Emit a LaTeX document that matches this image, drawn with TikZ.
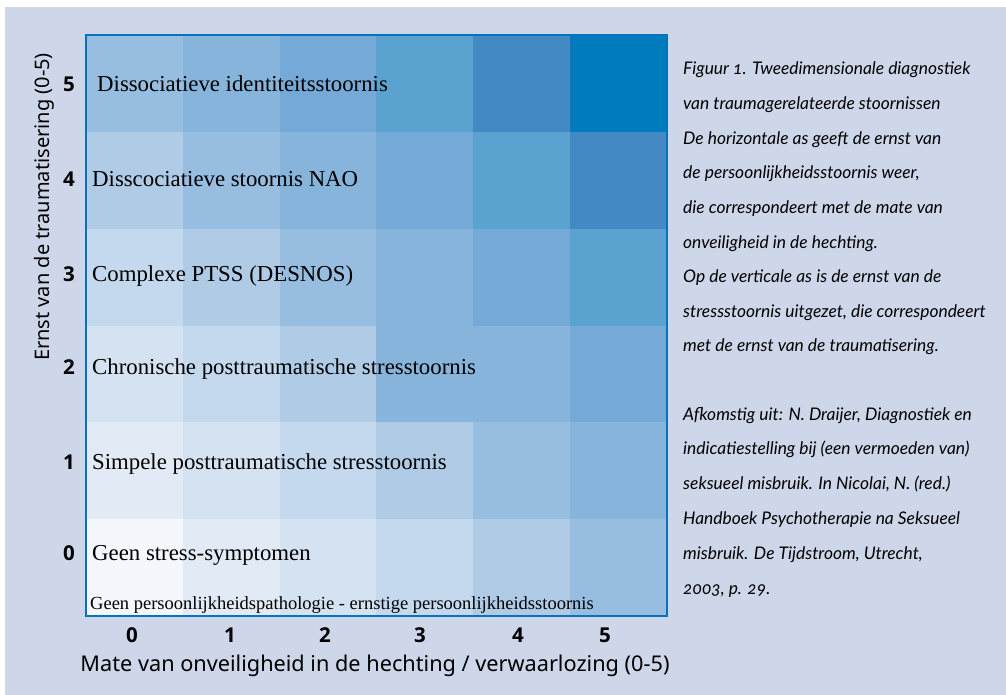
\documentclass[tikz,border=0pt]{standalone}
\usepackage{fontspec}
\setmainfont{Liberation Serif}
\newfontfamily\axisfont{Noto Sans}
\newfontfamily\tickfont{Open Sans}
\newfontfamily\capfont[Numbers=OldStyle]{Lato}
\usetikzlibrary{positioning}

\definecolor{panelbg}{HTML}{CED7E9}
\definecolor{frameblue}{HTML}{0A72B8}
\definecolor{lv0}{HTML}{F4F7FB}
\definecolor{lv1}{HTML}{E2EAF6}
\definecolor{lv2}{HTML}{D4E2F2}
\definecolor{lv3}{HTML}{C4D8EE}
\definecolor{lv4}{HTML}{AFCBE6}
\definecolor{lv5}{HTML}{97BDE0}
\definecolor{lv6}{HTML}{87B4DB}
\definecolor{lv7}{HTML}{75AAD8}
\definecolor{lv8}{HTML}{5AA3D0}
\definecolor{lv9}{HTML}{4389C3}
\definecolor{lv10}{HTML}{007BBD}

\begin{document}
\begin{tikzpicture}[x=1pt,y=-1pt,
    rowlabel/.style={anchor=base west,inner sep=0pt,font=\fontsize{22.8}{26}\selectfont},
    ticknum/.style={inner sep=0pt,font=\tickfont\bfseries\fontsize{20.5}{24}\selectfont},
    axislabel/.style={inner sep=0pt,font=\axisfont\fontsize{21.7}{25}\selectfont},
    captext/.style={anchor=base west,inner sep=0pt,font=\capfont\itshape\fontsize{17.4}{20}\selectfont}]
    % panel
    \fill[white] (0,0) rectangle (1006,695);
    \fill[panelbg] (5,7) rectangle (1006,695);
    % cells: colour grows with both axes
    \foreach \c in {0,...,5} {
        \foreach \r in {0,...,5} {
            \pgfmathtruncatemacro\lvl{\c+\r+(\c==3)*(\r==2)}
            \fill[lv\lvl] (86+\c*96.83,616-\r*96.83) rectangle (86+\c*96.83+96.83,616-\r*96.83-96.83);
        }
    }
    \node[draw=frameblue,line width=2pt,minimum width=581pt,minimum height=581pt,inner sep=0pt] (grid) at (376.5,325.5) {};
    % row labels
    \node[rowlabel] (l5) at (97,92) {Dissociatieve identiteitsstoornis};
    \node[rowlabel] (l4) at (92,186) {Disscociatieve stoornis NAO};
    \node[rowlabel] (l3) at (92,281) {Complexe PTSS (DESNOS)};
    \node[rowlabel] (l2) at (92,374) {Chronische posttraumatische stresstoornis};
    \node[rowlabel] (l1) at (92,469) {Simpele posttraumatische stresstoornis};
    \node[rowlabel] (l0) at (92,560) {Geen stress-symptomen};
    \node[rowlabel,font=\fontsize{18.5}{21}\selectfont] (xnote) at (90,609) {Geen persoonlijkheidspathologie - ernstige persoonlijkheidsstoornis};
    % ticks
    \foreach \n/\yy in {5/92,4/186,3/281,2/374,1/469,0/560}
        \node[ticknum,anchor=base] (ty\n) at (69,\yy) {\n};
    \foreach \n/\xx in {0/132,1/230,2/325,3/420,4/518,5/605}
        \node[ticknum,anchor=base] (tx\n) at (\xx,642) {\n};
    % axis titles
    \node[axislabel,anchor=base] (xtitle) at (375,671) {Mate van onveiligheid in de hechting / verwaarlozing (0-5)};
    \node[axislabel,anchor=base,rotate=90,font=\axisfont\fontsize{20}{24}\selectfont] (ytitle) at (49,207) {Ernst van de traumatisering (0-5)};
    % caption
    \foreach \txt [count=\i] in {{Figuur 1. Tweedimensionale diagnostiek},
        {van traumagerelateerde stoornissen},
        {De horizontale as geeft de ernst van},
        {de persoonlijkheidsstoornis weer,},
        {die correspondeert met de mate van},
        {onveiligheid in de hechting.},
        {Op de verticale as is de ernst van de},
        {stressstoornis uitgezet, die correspondeert},
        {met de ernst van de traumatisering.}}
        \node[captext] (cap\i) at (683,75+\i*34.6-34.6) {\txt};
    \foreach \txt [count=\i] in {{Afkomstig uit: N. Draijer, Diagnostiek en},
        {indicatiestelling bij (een vermoeden van)},
        {seksueel misbruik. In Nicolai, N. (red.)},
        {Handboek Psychotherapie na Seksueel},
        {misbruik. De Tijdstroom, Utrecht,},
        {2003, p. 29.}}
        \node[captext] (src\i) at (683,420+\i*34.8-34.8) {\txt};
\end{tikzpicture}
\end{document}
